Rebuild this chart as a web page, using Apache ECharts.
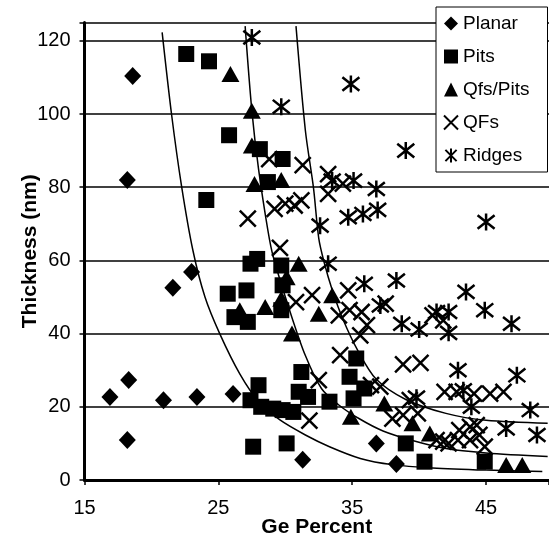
<!DOCTYPE html>
<html>
<head>
<meta charset="utf-8">
<script src="https://cdn.jsdelivr.net/npm/echarts@6/dist/echarts.min.js"></script>
<style>
  html, body { margin: 0; padding: 0; background: #fff; }
  #chart { width: 549px; height: 543px; }
</style>
</head>
<body>
<div id="chart"></div>
<script>
// [Ge %, thickness nm]
const planar = [[18.6,110.4],[18.2,82.0],[23.0,56.8],[21.6,52.5],[18.3,27.3],[16.9,22.7],[20.9,21.8],[23.4,22.7],[26.1,23.5],[18.2,10.9],[31.3,5.5],[36.8,10.0],[38.3,4.4]];
const pits = [[22.6,116.4],[24.3,114.4],[25.8,94.2],[24.1,76.5],[28.1,90.4],[29.8,87.7],[28.7,81.4],[27.9,60.4],[27.4,59.1],[29.7,58.6],[27.1,51.8],[25.7,50.9],[29.8,53.2],[26.2,44.5],[27.2,43.2],[29.7,46.4],[35.3,33.2],[31.2,29.5],[34.8,28.2],[28.0,25.9],[27.4,21.8],[28.2,20.0],[29.1,19.5],[29.8,19.1],[30.6,18.6],[31.0,24.1],[31.7,22.7],[33.3,21.4],[35.1,22.3],[35.9,25.0],[27.6,9.1],[30.1,10.0],[39.0,10.0],[40.4,5.0],[44.9,5.0]];
const qfsPits = [[25.9,110.9],[27.5,100.9],[27.5,91.4],[27.7,80.9],[29.7,82.0],[31.0,59.1],[30.1,55.4],[26.6,46.4],[28.5,47.3],[29.7,49.5],[32.5,45.4],[30.5,40.0],[33.5,50.5],[34.9,17.3],[37.4,20.9],[39.5,15.5],[40.8,12.7],[46.5,4.1],[47.7,4.1]];
const qfs = [[27.2,71.4],[28.8,87.7],[31.3,86.0],[33.2,83.6],[33.2,78.2],[34.3,81.0],[29.2,74.1],[30.0,75.5],[30.7,75.0],[31.2,76.4],[29.6,63.4],[30.8,48.6],[32.0,50.5],[34.7,51.8],[34.0,45.0],[34.8,46.4],[35.7,45.9],[36.1,42.3],[35.6,39.5],[37.5,48.2],[41.8,43.6],[41.0,45.0],[34.1,34.1],[32.5,27.3],[31.8,16.2],[38.8,31.6],[40.1,32.0],[41.9,24.1],[42.8,24.1],[44.1,23.6],[45.3,23.6],[46.3,24.1],[43.0,13.6],[43.8,14.5],[44.3,15.0],[42.9,10.9],[43.8,10.9],[44.5,12.3],[44.9,9.1],[41.8,10.5],[42.2,10.0],[41.3,10.9],[38.0,16.8],[38.8,17.7],[39.9,18.2],[39.3,21.8],[36.4,25.9],[37.1,25.5]];
const ridges = [[27.5,120.9],[29.7,102.0],[34.9,108.2],[39.0,90.0],[45.0,70.5],[33.5,81.8],[35.1,81.8],[36.8,79.5],[34.7,71.8],[35.8,72.7],[36.9,73.8],[32.6,69.5],[33.2,59.1],[35.9,53.6],[38.3,54.5],[43.5,51.4],[37.1,47.7],[38.7,42.7],[40.0,41.1],[41.3,45.9],[42.2,45.9],[42.2,40.2],[44.9,46.4],[46.9,42.7],[42.9,30.0],[47.3,28.6],[48.3,19.1],[48.8,12.3],[46.5,14.1],[43.3,24.5],[43.9,20.0],[39.8,22.5]];

// the three fitted curves
const fitLow = [[20.8,122.3],[21.5,100],[22.25,80.3],[23.1,62.7],[24.0,50],[25.1,40],[26.6,29],[28.0,21.5],[29.6,16.4],[31.5,12.3],[33.3,9.1],[35.6,5.9],[38,4.2],[41,3.3],[45,2.7],[49.2,2.3]];
const fitMid = [[27.0,124],[27.5,101],[28.0,85],[28.7,68.2],[29.1,61],[30.4,45.5],[31.5,34],[32.7,25],[34,20.5],[35.5,16.8],[37.3,13.4],[39.5,10.8],[42,8.6],[45,7.4],[49.6,6.4]];
const fitHigh = [[30.8,124],[31.5,95.5],[32.1,80],[32.5,66],[32.9,59.5],[33.5,52],[34.3,44],[35.4,35.5],[36.8,27.5],[39,22],[42,18.2],[45,16.3],[49.6,15.5]];

const xTicks = [15, 25, 35, 45];
const yTicks = [0, 20, 40, 60, 80, 100, 120];

const font = 'Liberation Sans, Arial, sans-serif';
const crossPath = 'path://M0,0L10,10M10,0L0,10';
const ridgePath = 'path://M1,1L9,9M9,1L1,9M5,0L5,10';

function fitLine(data) {
  return {
    type: 'line', data: data, smooth: 0.3, showSymbol: false,
    lineStyle: { color: '#000', width: 1.5 }, silent: true, z: 1
  };
}

const chart = echarts.init(document.getElementById('chart'));
chart.setOption({
  animation: false,
  backgroundColor: '#fff',
  textStyle: { fontFamily: font },
  grid: { left: 84.5, right: 0, top: 22.5, bottom: 63, outerBoundsMode: 'none', containLabel: false },
  legend: {
    orient: 'vertical', left: 436, top: 7,
    backgroundColor: '#fff', borderColor: '#000', borderWidth: 1,
    padding: [7, 18, 7, 7], itemGap: 14, itemWidth: 14, itemHeight: 14,
    textStyle: { fontSize: 19, color: '#000', fontFamily: font },
    data: ['Planar', 'Pits', 'Qfs/Pits', 'QFs', 'Ridges']
  },
  xAxis: {
    type: 'value', min: 15, max: 49.7, interval: 10,
    name: 'Ge Percent', nameLocation: 'middle', nameGap: 37, nameMoveOverlap: false,
    nameTextStyle: { fontSize: 21, fontWeight: 'bold', color: '#000', fontFamily: font },
    axisLine: { lineStyle: { color: '#000', width: 3 } },
    axisTick: { length: 5, lineStyle: { color: '#000', width: 1.5 } },
    splitLine: { show: false },
    axisLabel: {
      fontSize: 20, color: '#000', margin: 18,
      formatter: v => xTicks.includes(v) ? String(v) : ''
    }
  },
  yAxis: {
    type: 'value', min: 0, max: 125, interval: 20,
    name: 'Thickness (nm)', nameLocation: 'middle', nameRotate: 90, nameGap: 44, nameMoveOverlap: false,
    nameTextStyle: { fontSize: 21, fontWeight: 'bold', color: '#000', fontFamily: font },
    axisLine: { lineStyle: { color: '#000', width: 3 } },
    axisTick: { length: 5, lineStyle: { color: '#000', width: 1.5 } },
    splitLine: { lineStyle: { color: '#000', width: 1.5 } },
    axisLabel: {
      fontSize: 20, color: '#000', margin: 14,
      formatter: v => yTicks.includes(v) ? String(v) : ''
    }
  },
  series: [
    fitLine(fitLow), fitLine(fitMid), fitLine(fitHigh),
    { name: 'Planar', type: 'scatter', data: planar, symbol: 'diamond', symbolSize: [17, 18],
      itemStyle: { color: '#000', opacity: 1 }, z: 3 },
    { name: 'Pits', type: 'scatter', data: pits, symbol: 'rect', symbolSize: 16,
      itemStyle: { color: '#000', opacity: 1 }, z: 3 },
    { name: 'Qfs/Pits', type: 'scatter', data: qfsPits, symbol: 'triangle', symbolSize: [18, 16],
      itemStyle: { color: '#000', opacity: 1 }, z: 3 },
    { name: 'QFs', type: 'scatter', data: qfs, symbol: crossPath, symbolSize: 16,
      itemStyle: { color: 'rgba(0,0,0,0)', borderColor: '#000', borderWidth: 2.5, opacity: 1 }, z: 3 },
    { name: 'Ridges', type: 'scatter', data: ridges, symbol: ridgePath, symbolSize: 17,
      itemStyle: { color: 'rgba(0,0,0,0)', borderColor: '#000', borderWidth: 2.5, opacity: 1 }, z: 3 }
  ]
});
window.addEventListener('resize', function () { chart.resize(); });
</script>
</body>
</html>
